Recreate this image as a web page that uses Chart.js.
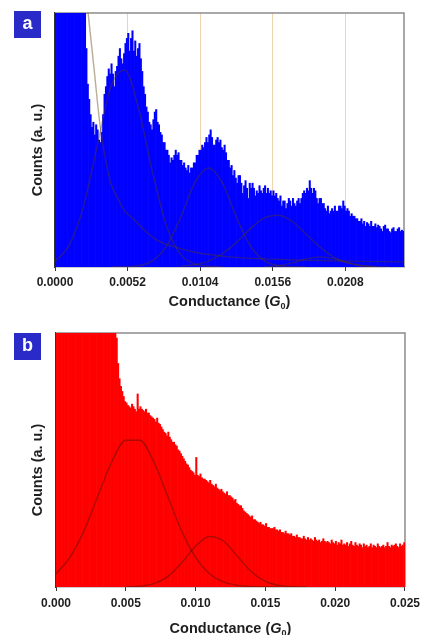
<!DOCTYPE html>
<html><head><meta charset="utf-8">
<script src="https://cdn.jsdelivr.net/npm/chart.js@4.4.0/dist/chart.umd.min.js"></script>
<style>
html,body{margin:0;padding:0;background:#fff;overflow:hidden;}
#ca{position:absolute;left:0;top:0;}
#cb{position:absolute;left:0;top:317px;}
</style></head><body>
<canvas id="ca" width="425" height="317"></canvas>
<canvas id="cb" width="425" height="318"></canvas>
<script>
// ---------------- data ----------------
const BIN_WIDTH = 0.0001;   // G0 per histogram bin
const countsA = [
 130,130,130,130,130,130,130,130,130,130,
 130,130,130,130,130,130,130,130,130,130,
 130,100,86,72,66,60,55,57,52,56,
 54,50,49,53,60,68,71,75,78,76,
 80,76,71,77,79,83,86,82,80,84,
 88,90,92,85,90,93,85,89,83,86,
 88,82,77,71,68,63,61,57,56,54,
 58,61,62,57,56,53,52,49,49,46,
 46,44,41,43,42,44,46,44,45,42,
 42,40,41,39,38,40,37,39,39,41,
 41,44,44,46,46,48,47,49,51,49,
 52,54,51,48,48,50,51,49,50,47,
 46,48,45,42,42,39,40,36,38,35,
 33,36,36,33,29,32,34,31,27,33,
 31,33,31,28,30,29,32,30,29,31,
 32,29,31,29,30,28,30,28,29,27,
 26,28,24,26,26,23,25,27,26,24,
 27,25,24,26,27,25,27,29,30,29,
 31,30,34,31,29,31,30,27,25,27,
 27,25,25,23,22,24,21,22,23,22,
 24,22,22,24,24,23,26,24,22,23,
 22,20,21,20,20,19,19,18,18,19,
 17,18,16,17.5,17,16,18,16,16,17,
 15.5,16.5,16,15,14,16,16.5,15,15,14,
 13.5,15,15.5,14,14,15,15.5,14,14.5,14
];
const countsB = [
 130,130,130,130,130,130,130,130,130,130,
 130,130,130,130,130,130,130,130,130,130,
 130,130,130,130,130,130,130,130,130,130,
 130,130,130,130,130,130,130,130,130,130,
 130,130,130,
 98,88,82,79,77,75,73,72.5,71.5,71,
 70.5,72,71,70,69,76,70,71,70,69.5,
 69,70,68.5,68.5,67.5,67,66.5,66,65,66.5,
 64.5,64,63,62,61,60.5,59.5,61,59,58,
 57,57,56,55.5,54,53.5,52.5,51.5,50.5,49.5,
 48.5,48,47,46,45.5,45,44,51,44,43.5,
 44.5,43,42.5,42.5,42,41.5,41,42,40.5,40,
 39.5,40.5,39,38.5,38,38.5,37.5,37,36.5,37.5,
 36,36,35.5,35,34,34.5,33,32.5,32,32,
 31,30,29.5,29,28.5,28,27.5,28,26.5,26.5,
 26,25.5,25,25.5,24.5,24.5,24,25,23.5,23.5,
 23,23,23,23.5,22.5,22.5,22,22.5,21.5,21.5,
 21,22,21,21,20.5,21,20,20,19.5,20.5,
 19.5,19.5,19,19,20,19,18.5,19.5,18.5,19,
 18.5,18,19.5,18.5,18,18.5,17.5,18,19,18,
 17.5,18,17.5,17,18.5,17.5,17,18,16.5,17.5,
 17,18.5,16.5,17,16.5,17.5,16,17,18,16.5,
 16,17.5,16.5,16,17,16.5,15.5,17,16,16.5,
 15.5,16,17,15.5,16.5,16,15.5,17,16,15.5,
 16,16.5,15.5,16,17.5,16,15.5,16.5,16,16.5,
 17,16,15.5,17,16,16.5,17.5
];
const ticksA = [0, 0.0052, 0.0104, 0.0156, 0.0208];
const tickLabelsA = ['0.0000','0.0052','0.0104','0.0156','0.0208'];
const ticksB = [0, 0.005, 0.010, 0.015, 0.020, 0.025];
const tickLabelsB = ['0.000','0.005','0.010','0.015','0.020','0.025'];

// fitted components (panel a)
const decayAx = [0.0016,0.0020,0.0024,0.0028,0.0032,0.0036,0.0040,0.0045,0.0050,0.0056,0.0065,0.0073,0.0085,0.0100,0.0125,0.0150,0.0200,0.0250];
const decayAy = [142,119,98.5,78,57,43,33,27,22,19,14,10.6,8,5.8,4,3.2,2.4,2];
const peak1Ax = [0,0.001,0.002,0.003,0.004,0.005,0.006,0.007,0.008,0.009,0.010,0.011,0.012];
const peak1Ay = [2.2,8.4,23,47,71,77.5,62,37,16,5,1.2,0.3,0];
const peak2Ax = [0.004,0.005,0.006,0.007,0.008,0.009,0.010,0.011,0.012,0.013,0.014,0.015,0.016,0.017,0.018];
const peak2Ay = [0,0.1,0.5,2.5,8.3,19.5,33,39,33,19.5,8.3,2.5,0.5,0.1,0];
const peak3Ax = [0.009,0.010,0.011,0.012,0.013,0.014,0.015,0.016,0.017,0.018,0.019,0.020,0.021,0.022,0.023,0.024];
const peak3Ay = [0.26,0.9,2.3,5.3,9.7,15.1,19.3,20.4,17.9,12.9,7.8,3.8,1.6,0.5,0.15,0];
const peak4Ax = [0.015,0.016,0.017,0.018,0.019,0.020,0.021,0.022,0.023];
const peak4Ay = [0.1,0.5,1.6,3.2,4,3.2,1.6,0.5,0.1];
// panel b
const peak1Bx = [0,0.001,0.002,0.003,0.004,0.005,0.006,0.007,0.008,0.009,0.010,0.011,0.012,0.013,0.014,0.015,0.016];
const peak1By = [5.2,11.7,22.1,35.8,49.3,57.8,57.8,49.3,35.8,22.1,11.7,5.2,2.0,0.65,0.18,0.05,0];
const peak2Bx = [0.005,0.006,0.007,0.008,0.009,0.010,0.011,0.012,0.013,0.014,0.015,0.016,0.017,0.018];
const peak2By = [0.05,0.3,1.3,4.1,9.5,16,19.9,18.1,12.1,6,2.2,0.6,0.1,0];

// ---------------- helpers ----------------
const FAM = '"Liberation Sans", Arial, Helvetica, sans-serif';
const pts = (xs, ys) => xs.map((x, i) => ({x, y: ys[i]}));
const hist = counts => counts.map((c, i) => ({x: BIN_WIDTH * (i + 0.5), y: c}));

function fitLine(xs, ys, color) {
  return {type:'line', data: pts(xs, ys), borderColor: color, borderWidth: 1.4,
    pointRadius: 0, cubicInterpolationMode: 'monotone', fill: false, order: 1};
}

const decor = {
  id: 'decor',
  beforeDatasetsDraw(chart, args, o) {
    const {ctx, chartArea: ca} = chart;
    ctx.save();
    ctx.strokeStyle = '#8c8c8c'; ctx.lineWidth = 1.5;
    ctx.beginPath();
    ctx.moveTo(ca.left, ca.top); ctx.lineTo(ca.right, ca.top); ctx.lineTo(ca.right, ca.bottom);
    ctx.stroke();
    ctx.restore();
  },
  afterDraw(chart, args, o) {
    const {ctx, chartArea: ca} = chart;
    ctx.save();
    // panel letter
    ctx.fillStyle = '#2a2ac8';
    ctx.fillRect(14, o.labelY, 27, 27);
    ctx.fillStyle = '#fff';
    ctx.font = 'bold 18px ' + FAM;
    ctx.textAlign = 'center'; ctx.textBaseline = 'middle';
    ctx.fillText(o.label, 27.5, o.labelY + 13);
    // y title
    ctx.fillStyle = '#1e1e1e';
    ctx.font = 'bold 14.5px ' + FAM;
    ctx.save();
    ctx.translate(37.5, o.yTitleY);
    ctx.rotate(-Math.PI / 2);
    ctx.textAlign = 'center'; ctx.textBaseline = 'middle';
    ctx.fillText('Counts (a. u.)', 0, 0);
    ctx.restore();
    // x title with italic G and subscript 0
    const parts = [
      ['Conductance (', 'bold 14.5px ' + FAM, 0],
      ['G', 'italic bold 14.5px ' + FAM, 0],
      ['0', 'bold 9px ' + FAM, 3],
      [')', 'bold 14.5px ' + FAM, 0]
    ];
    let total = 0;
    parts.forEach(p => { ctx.font = p[1]; total += ctx.measureText(p[0]).width; });
    let x = (ca.left + ca.right) / 2 - total / 2;
    ctx.textAlign = 'left'; ctx.textBaseline = 'alphabetic';
    parts.forEach(p => { ctx.font = p[1]; ctx.fillText(p[0], x, o.xTitleBase + p[2]); x += ctx.measureText(p[0]).width; });
    ctx.restore();
  }
};

function makeChart(id, opts) {
  new Chart(document.getElementById(id), {
    data: {datasets: [
      {type:'bar', data: hist(opts.counts), backgroundColor: opts.barColor, borderWidth: 0,
       barPercentage: 1, categoryPercentage: 1, order: 2},
      ...opts.lines
    ]},
    options: {
      responsive: false, animation: false, events: [],
      layout: {padding: {left: 0, top: opts.top, right: opts.right, bottom: 0}},
      plugins: {legend: {display: false}, tooltip: {enabled: false},
        decor: {label: opts.label, labelY: opts.labelY, yTitleY: opts.yTitleY, xTitleBase: opts.xTitleBase}},
      scales: {
        x: {type: 'linear', min: 0, max: 0.025, offset: false,
          afterBuildTicks: s => { s.ticks = opts.ticks.map(v => ({value: v})); },
          afterFit: s => { s.height = opts.xAxisH; },
          ticks: {padding: opts.tickPad, maxRotation: 0, autoSkip: false, color: '#1e1e1e',
            font: {family: FAM, weight: 'bold', size: 12},
            callback: (v, i) => opts.tickLabels[i]},
          grid: {offset: false, drawOnChartArea: opts.vgrid, tickLength: 4, tickColor: '#333', lineWidth: 1,
            color: c => (c.tick && c.tick.value === 0) ? 'rgba(0,0,0,0)' : '#efd4b0'},
          border: {display: true, color: '#333', width: 1.2}
        },
        y: {min: 0, max: 100,
          afterFit: s => { s.width = opts.left; },
          ticks: {display: false},
          grid: {display: false, drawTicks: false},
          border: {display: true, color: '#333', width: 1.2}
        }
      }
    },
    plugins: [decor]
  });
}

const lineColA = 'rgba(90,60,10,0.42)';
const lineColB = 'rgba(70,20,0,0.45)';

makeChart('ca', {
  counts: countsA, barColor: '#0000ff', label: 'a', labelY: 11, yTitleY: 150, xTitleBase: 305.5,
  top: 13, right: 21, left: 55, xAxisH: 50, tickPad: 4, ticks: ticksA, tickLabels: tickLabelsA, vgrid: true,
  lines: [fitLine(decayAx, decayAy, lineColA), fitLine(peak1Ax, peak1Ay, lineColA),
          fitLine(peak2Ax, peak2Ay, lineColA), fitLine(peak3Ax, peak3Ay, lineColA),
          fitLine(peak4Ax, peak4Ay, lineColA)]
});
makeChart('cb', {
  counts: countsB, barColor: '#ff0000', label: 'b', labelY: 16, yTitleY: 153, xTitleBase: 316,
  top: 16, right: 20, left: 56, xAxisH: 48, tickPad: 5, ticks: ticksB, tickLabels: tickLabelsB, vgrid: false,
  lines: [fitLine(peak1Bx, peak1By, lineColB), fitLine(peak2Bx, peak2By, lineColB)]
});
</script>
</body></html>
